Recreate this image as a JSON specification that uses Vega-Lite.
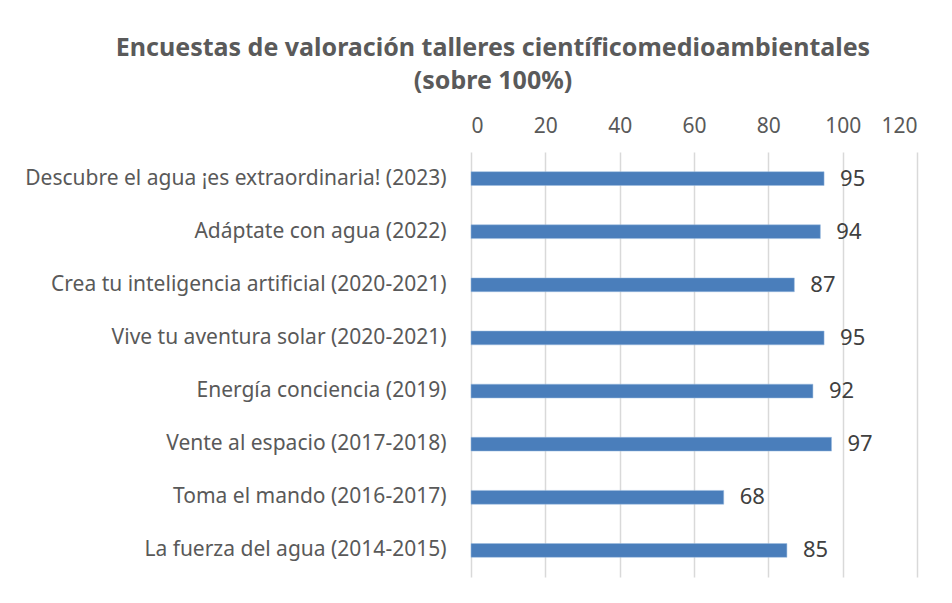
{
  "$schema": "https://vega.github.io/schema/vega-lite/v6.json",
  "width": 446,
  "height": 425,
  "autosize": "none",
  "padding": {"left": 471, "top": 152, "right": 35, "bottom": 26},
  "background": "white",
  "title": {
    "text": ["Encuestas de valoración talleres científicomedioambientales", "(sobre 100%)"],
    "font": "Noto Sans",
    "fontSize": 25,
    "fontWeight": "bold",
    "color": "#5a5a5a",
    "lineHeight": 33,
    "anchor": "middle",
    "dx": -201,
    "offset": 21
  },
  "data": {
    "values": [
      {"taller": "Descubre el agua ¡es extraordinaria! (2023)", "valor": 95},
      {"taller": "Adáptate con agua (2022)", "valor": 94},
      {"taller": "Crea tu inteligencia artificial (2020-2021)", "valor": 87},
      {"taller": "Vive tu aventura solar (2020-2021)", "valor": 95},
      {"taller": "Energía conciencia (2019)", "valor": 92},
      {"taller": "Vente al espacio (2017-2018)", "valor": 97},
      {"taller": "Toma el mando (2016-2017)", "valor": 68},
      {"taller": "La fuerza del agua (2014-2015)", "valor": 85}
    ]
  },
  "encoding": {
    "y": {
      "field": "taller",
      "type": "nominal",
      "sort": null,
      "title": null,
      "scale": {"paddingInner": 0.74, "paddingOuter": 0.37},
      "axis": {
        "domain": false,
        "ticks": false,
        "grid": false,
        "labelPadding": 25,
        "labelFont": "Noto Sans",
        "labelFontSize": 21,
        "labelColor": "#595959",
        "labelLimit": 600
      }
    },
    "x": {
      "field": "valor",
      "type": "quantitative",
      "title": null,
      "scale": {"domain": [0, 120], "nice": false},
      "axis": {
        "orient": "top",
        "values": [0, 20, 40, 60, 80, 100, 120],
        "domain": false,
        "ticks": false,
        "grid": true,
        "gridColor": "#d9d9d9",
        "gridWidth": 1.5,
        "labelPadding": 16,
        "labelFont": "Noto Sans",
        "labelFontSize": 21,
        "labelColor": "#595959"
      }
    }
  },
  "layer": [
    {"mark": {"type": "bar", "color": "#4a7ebb", "stroke": "#9dbde0", "strokeWidth": 0.5}},
    {
      "mark": {"type": "text", "align": "left", "baseline": "middle", "dx": 16, "font": "Noto Sans", "fontSize": 22, "color": "#404040"},
      "encoding": {"text": {"field": "valor", "type": "quantitative"}}
    }
  ],
  "config": {"view": {"stroke": null}}
}
